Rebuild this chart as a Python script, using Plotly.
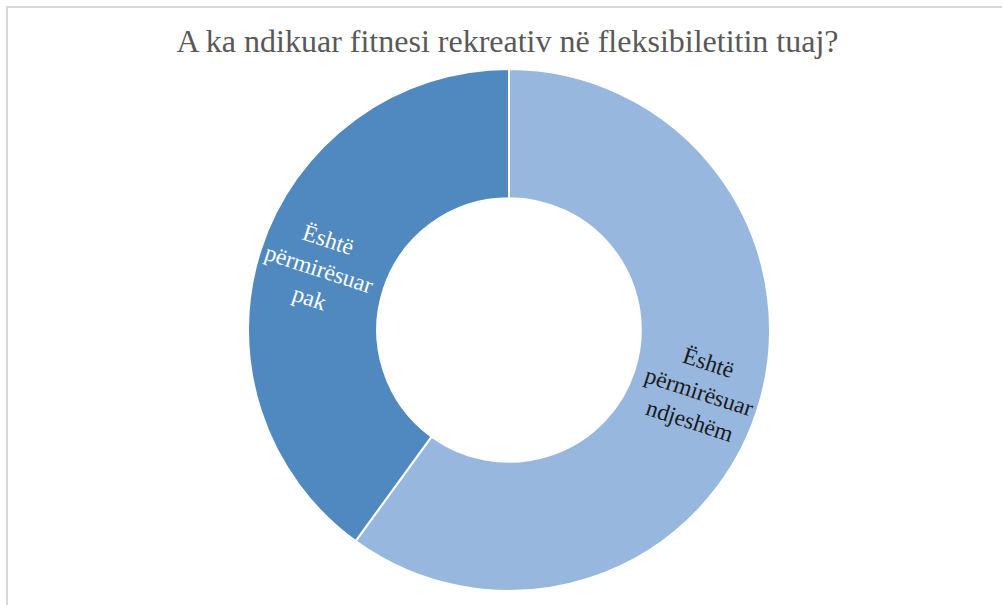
import math
import plotly.graph_objects as go

# Të dhënat e grafikut
labels = ["Është përmirësuar ndjeshëm", "Është përmirësuar pak"]
label_lines = ["Është<br>përmirësuar<br>ndjeshëm", "Është<br>përmirësuar<br>pak"]
values = [60, 40]
colors = ["#97b7df", "#4f89bf"]
text_colors = ["#1a1a1a", "#ffffff"]
title = "A ka ndikuar fitnesi rekreativ në fleksibiletitin tuaj?"

SERIF = "Liberation Serif, Times New Roman, serif"
W, H = 1002, 605
cx, cy, rad = 509, 330, 261   # qendra dhe rrezja e unazës (px)
hole = 0.505
label_r = 200

fig = go.Figure(go.Pie(
    labels=labels,
    values=values,
    hole=hole,
    sort=False,
    direction="clockwise",
    rotation=0,
    textinfo="none",
    marker=dict(colors=colors, line=dict(color="white", width=2)),
    domain=dict(
        x=[(cx - rad) / W, (cx + rad) / W],
        y=[(H - cy - rad) / H, (H - cy + rad) / H],
    ),
    hoverinfo="label+percent",
    showlegend=False,
))

# Etiketat e rrotulluara sipas rrezes (si në Excel)
total = sum(values)
cum = 0
for txt, v, col in zip(label_lines, values, text_colors):
    mid = (cum + v / 2) / total * 360
    cum += v
    a = math.radians(mid)
    px = cx + label_r * math.sin(a)
    py = cy - label_r * math.cos(a)
    ang = mid - 90 if mid < 180 else mid - 270
    fig.add_annotation(
        x=px / W, y=1 - py / H, xref="paper", yref="paper",
        xanchor="center", yanchor="middle",
        text=txt, showarrow=False, textangle=ang,
        font=dict(family=SERIF, size=23.5, color=col),
        align="center",
    )

fig.update_layout(
    width=W,
    height=H,
    margin=dict(t=0, b=0, l=0, r=0),
    paper_bgcolor="white",
    title=dict(
        text=title,
        x=507.5 / W,
        xanchor="center",
        y=1 - 41 / H,
        yanchor="middle",
        font=dict(family=SERIF, size=32, color="#595959"),
    ),
    shapes=[dict(
        type="rect", xref="paper", yref="paper",
        x0=7 / W, x1=1.05, y0=-0.05, y1=1 - 7 / H,
        line=dict(color="#d9d9d9", width=2),
    )],
)

fig.write_html(
    "out.html",
    config={"displayModeBar": False},
    post_script="document.body.style.margin='0';",
)
